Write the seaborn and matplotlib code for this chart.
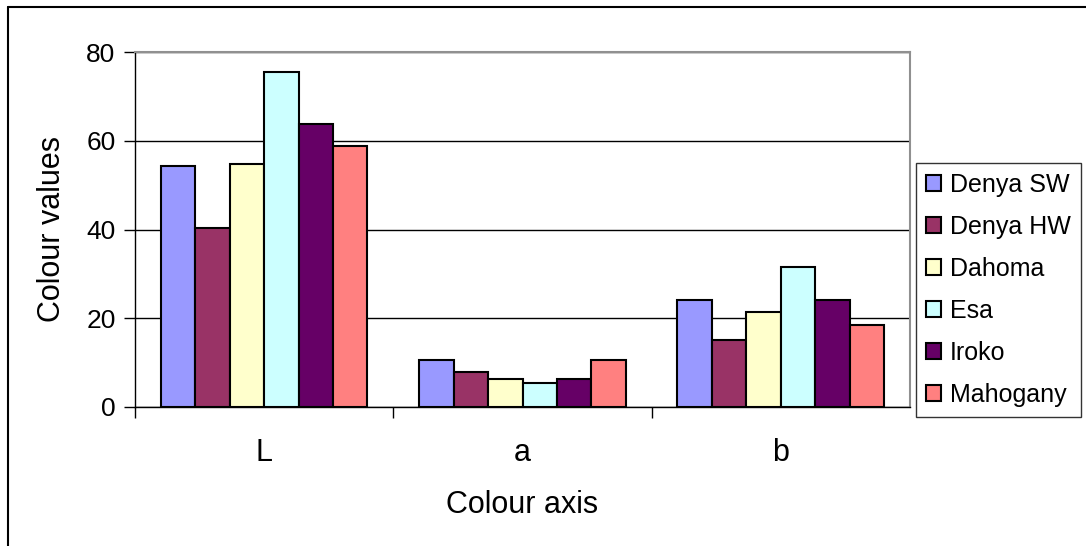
import pandas as pd
import seaborn as sns
from matplotlib import pyplot as plt
from matplotlib.lines import Line2D

# values
axes_cats = ["L", "a", "b"]
woods = ["Denya SW", "Denya HW", "Dahoma", "Esa", "Iroko", "Mahogany"]
denya_sw = [54.3, 10.6, 24.1]
denya_hw = [40.4, 8.0, 15.2]
dahoma = [54.8, 6.2, 21.5]
esa = [75.5, 5.3, 31.5]
iroko = [63.8, 6.2, 24.2]
mahogany = [58.9, 10.6, 18.4]
colours = ["#9999FF", "#993366", "#FFFFCC", "#CCFFFF", "#660066", "#FF8080"]

series = [denya_sw, denya_hw, dahoma, esa, iroko, mahogany]
rows = []
for wood, vals in zip(woods, series):
    for cat, v in zip(axes_cats, vals):
        rows.append({"axis": cat, "wood": wood, "value": v})
data = pd.DataFrame(rows)

sns.set_style("white")
plt.rcParams["font.family"] = ["Liberation Sans", "DejaVu Sans"]
plt.rcParams.update({"text.color": "black", "axes.labelcolor": "black",
                     "xtick.color": "black", "ytick.color": "black"})

fig = plt.figure(figsize=(10.86, 5.46), dpi=100)
ax = fig.add_axes([135 / 1086, 1 - 407 / 546, 775 / 1086, 355 / 546])

sns.barplot(data=data, x="axis", y="value", hue="wood", order=axes_cats,
            hue_order=woods, palette=colours, edgecolor="black", linewidth=1.5,
            saturation=1, width=0.8, ax=ax, legend=True)

ax.set_xlim(-0.5, 2.5)
ax.set_ylim(0, 80)
ax.set_yticks([0, 20, 40, 60, 80])
ax.yaxis.grid(True, color="black", linewidth=1)
ax.set_axisbelow(True)

ax.tick_params(axis="y", direction="out", length=8, width=1,
               labelsize=19, pad=6, left=True)
ax.tick_params(axis="x", which="major", length=0, labelsize=22, pad=22)
ax.set_xticks([-0.5, 0.5, 1.5], minor=True)
ax.tick_params(axis="x", which="minor", direction="out", length=8, width=1,
               bottom=True)

for side in ["top", "right"]:
    ax.spines[side].set_color("#909090")
    ax.spines[side].set_linewidth(1.5)
for side in ["left", "bottom"]:
    ax.spines[side].set_color("black")
    ax.spines[side].set_linewidth(1)

ax.set_xlabel("Colour axis", fontsize=22, labelpad=16)
ax.set_ylabel("Colour values", fontsize=22, labelpad=14)

handles, labels = ax.get_legend_handles_labels()
ax.legend(handles, labels, loc="upper left",
          bbox_to_anchor=(916 / 1086, 1 - 163 / 546), bbox_transform=fig.transFigure,
          fontsize=18, frameon=True, fancybox=False, edgecolor="black",
          handlelength=0.6, handleheight=0.6, handletextpad=0.35,
          labelspacing=0.72, borderpad=0.4, borderaxespad=0)
ax.get_legend().get_frame().set_linewidth(1)

# outer chart border (left and top edges visible)
fig.add_artist(Line2D([8 / 1086, 8 / 1086], [0, 1 - 7 / 546], color="black",
                      linewidth=1.5, transform=fig.transFigure))
fig.add_artist(Line2D([8 / 1086, 1], [1 - 7 / 546, 1 - 7 / 546], color="black",
                      linewidth=1.5, transform=fig.transFigure))

fig.savefig("out.png", dpi=100)
